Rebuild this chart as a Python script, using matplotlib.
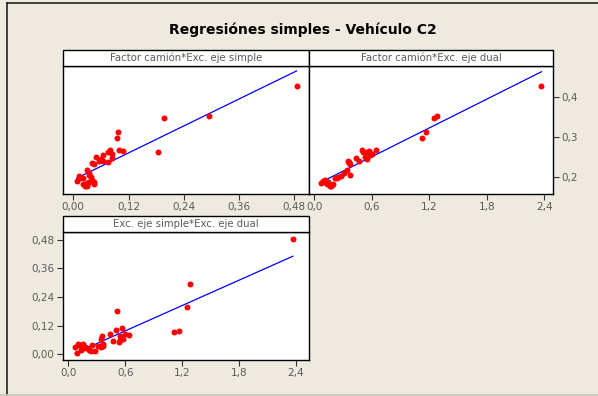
import numpy as np
import matplotlib
matplotlib.use('Agg')
import matplotlib.pyplot as plt
from matplotlib.patches import Rectangle
from matplotlib.lines import Line2D

###############################################################################
''' Data (read off the reference) '''
# one row per observation: Exc. eje dual, Exc. eje simple, Factor camion
exc_dual = [2.37, 1.28, 1.25, 1.17, 1.12, 0.64, 0.57, 0.51, 0.50, 0.60,
            0.55, 0.58, 0.53, 0.55, 0.47, 0.44, 0.36, 0.35, 0.37, 0.36,
            0.345, 0.37, 0.31, 0.28, 0.25, 0.24, 0.22, 0.18, 0.17, 0.15,
            0.14, 0.12, 0.10, 0.09, 0.07, 0.13, 0.11, 0.16, 0.20]
exc_simple = [0.485, 0.295, 0.197, 0.098, 0.094, 0.080, 0.109, 0.183, 0.100, 0.085,
              0.075, 0.065, 0.050, 0.060, 0.055, 0.085, 0.075, 0.065, 0.045, 0.040,
              0.030, 0.035, 0.035, 0.012, 0.038, 0.015, 0.020, 0.030, 0.025, 0.045,
              0.035, 0.040, 0.045, 0.007, 0.030, 0.020, 0.040, 0.030, 0.028]
factor_camion = [0.428, 0.353, 0.346, 0.311, 0.297, 0.268, 0.265, 0.261, 0.266, 0.258,
                 0.262, 0.255, 0.250, 0.245, 0.240, 0.246, 0.236, 0.240, 0.232, 0.235,
                 0.217, 0.204, 0.210, 0.203, 0.200, 0.198, 0.196, 0.180, 0.176, 0.183,
                 0.186, 0.190, 0.188, 0.190, 0.185, 0.182, 0.192, 0.178, 0.181]

titulo = 'Regresiónes simples - Vehículo C2'
paneles = ['Factor camión*Exc. eje simple', 'Factor camión*Exc. eje dual',
           'Exc. eje simple*Exc. eje dual']

ticks_simple = [0.00, 0.12, 0.24, 0.36, 0.48]
labels_simple = ['0,00', '0,12', '0,24', '0,36', '0,48']
ticks_dual = [0.0, 0.6, 1.2, 1.8, 2.4]
labels_dual = ['0,0', '0,6', '1,2', '1,8', '2,4']
ticks_factor = [0.2, 0.3, 0.4]
labels_factor = ['0,2', '0,3', '0,4']

###############################################################################
''' Layout helpers '''
W, H = 598, 396
BG = '#EEEAE0'
GRIS = '#5a5a5a'

fig = plt.figure(figsize=(W / 100, H / 100), dpi=100, facecolor=BG)


def rect(x0, y0, x1, y1):
    # pixel box (top-left origin) -> figure fraction
    return [x0 / W, 1 - y1 / H, (x1 - x0) / W, (y1 - y0) / H]


def header(x0, y0, x1, y1, text):
    fig.patches.append(Rectangle((x0 / W, 1 - y1 / H), (x1 - x0) / W, (y1 - y0) / H,
                                 transform=fig.transFigure, facecolor='white',
                                 edgecolor='black', linewidth=1.0, zorder=2))
    fig.text((x0 + x1) / 2 / W, 1 - (y0 + y1) / 2 / H, text, ha='center', va='center',
             fontsize=7.3, color=GRIS, zorder=3)


def panel(r, x, y, xticks, xlabels):
    ax = fig.add_axes(r)
    ax.set_facecolor('white')
    ax.plot(x, y, 'o', color='#FF0000', markersize=4.3, markeredgewidth=0, zorder=3)
    b, a = np.polyfit(x, y, 1)
    xs = np.array([min(x), max(x)])
    ax.plot(xs, a + b * xs, color='#0000FF', linewidth=0.9, zorder=2)
    ax.set_xticks(xticks)
    ax.set_xticklabels(xlabels)
    ax.tick_params(direction='out', length=4, width=0.8, color='#333333',
                   labelcolor=GRIS, labelsize=7.5, pad=2)
    for s in ax.spines.values():
        s.set_linewidth(1.0)
        s.set_color('black')
    return ax


# outer frame: dark left/top edges, light bottom edge
fig.lines.append(Line2D([6.5 / W, 6.5 / W], [0, 1 - 2.5 / H], transform=fig.transFigure,
                        color='#222222', linewidth=1.2))
fig.lines.append(Line2D([6.5 / W, 1], [1 - 2.5 / H, 1 - 2.5 / H], transform=fig.transFigure,
                        color='#222222', linewidth=1.2))
fig.lines.append(Line2D([0, 1], [0.6 / H, 0.6 / H], transform=fig.transFigure,
                        color='#c8c5bc', linewidth=1.2))
fig.text(303 / W, 1 - 30 / H, titulo, ha='center', va='center',
         fontsize=10, fontweight='bold', color='black')

# Factor camion vs Exc. eje simple
ax1 = panel(rect(63, 66, 309, 194), exc_simple, factor_camion, ticks_simple, labels_simple)
ax1.set_xlim(-0.0224, 0.512)
ax1.set_ylim(0.157, 0.477)
ax1.set_yticks([])

# Factor camion vs Exc. eje dual
ax2 = panel(rect(309, 66, 553, 194), exc_dual, factor_camion, ticks_dual, labels_dual)
ax2.set_xlim(-0.055, 2.49)
ax2.set_ylim(0.157, 0.477)
ax2.set_yticks(ticks_factor)
ax2.set_yticklabels(labels_factor)
ax2.yaxis.tick_right()

# Exc. eje simple vs Exc. eje dual
ax3 = panel(rect(63, 232, 309, 360), exc_dual, exc_simple, ticks_dual, labels_dual)
ax3.set_xlim(-0.056, 2.54)
ax3.set_ylim(-0.024, 0.513)
ax3.set_yticks(ticks_simple)
ax3.set_yticklabels(labels_simple)

header(63, 50, 309, 66, paneles[0])
header(309, 50, 553, 66, paneles[1])
header(63, 216, 309, 232, paneles[2])

fig.savefig('out.png', dpi=100, facecolor=BG)
